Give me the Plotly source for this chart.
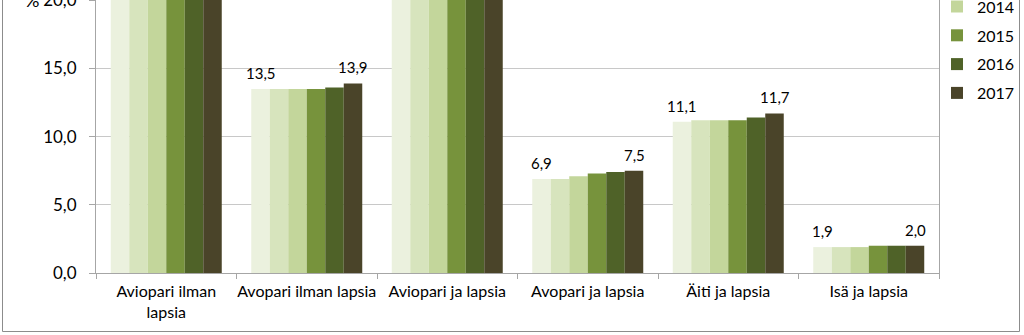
import plotly.graph_objects as go

# Family types (x-axis categories) and the yearly shares, %
categories = [
    "Aviopari ilman<br>lapsia",
    "Avopari ilman lapsia",
    "Aviopari ja lapsia",
    "Avopari ja lapsia",
    "Äiti ja lapsia",
    "Isä ja lapsia",
]
years = ["2012", "2013", "2014", "2015", "2016", "2017"]

v2012 = [36.4, 13.5, 30.2, 6.9, 11.1, 1.9]
v2013 = [36.6, 13.5, 29.7, 6.9, 11.2, 1.9]
v2014 = [36.8, 13.5, 29.2, 7.1, 11.2, 1.9]
v2015 = [37.0, 13.5, 28.8, 7.3, 11.2, 2.0]
v2016 = [37.1, 13.6, 28.3, 7.4, 11.4, 2.0]
v2017 = [37.2, 13.9, 27.7, 7.5, 11.7, 2.0]
series = [v2012, v2013, v2014, v2015, v2016, v2017]

colors = ["#EBF1DE", "#D7E4BD", "#C3D69B", "#77933C", "#4F6228", "#4A4429"]

y_ticks = [0, 5, 10, 15, 20]

W, H = 1024, 335
ML, MR, MT, MB = 96, 85, 0, 62
BARGAP = 0.21
FONT = "Lato"

plot_w = W - ML - MR
plot_h = H - MT - MB


def px_x(px):
    return (px - ML) / plot_w


def px_y(py):
    return (H - MB - py) / plot_h


fig = go.Figure()
for year, vals, col in zip(years, series, colors):
    fig.add_trace(go.Bar(
        name=year, x=categories, y=vals,
        marker=dict(color=col, line=dict(width=0)),
        legendgroup=year,
        hoverinfo="x+y+name",
    ))

# value labels for the first and last year, placed over their bars
n = len(years)
bar_w = (1 - BARGAP) / n
annotations = []
for k in (0, n - 1):
    for ci, v in enumerate(series[k]):
        annotations.append(dict(
            x=ci + (k - (n - 1) / 2) * bar_w, y=v, xref="x", yref="y",
            text=f"{v:.1f}".replace(".", ","), showarrow=False,
            yanchor="bottom", yshift=5,
            font=dict(family=FONT, size=15, color="#000000"),
        ))

annotations.append(dict(
    x=px_x(32), y=px_y(0.5), xref="paper", yref="paper", text="%",
    showarrow=False, xanchor="center", yanchor="middle",
    font=dict(family=FONT, size=18, color="#000000"),
))

fig.update_layout(
    width=W, height=H,
    margin=dict(l=ML, r=MR, t=MT, b=MB, autoexpand=False),
    paper_bgcolor="white", plot_bgcolor="white",
    barmode="group", bargap=BARGAP, bargroupgap=0,
    separators=", ",
    font=dict(family=FONT, size=15, color="#000000"),
    showlegend=True,
    legend=dict(
        x=px_x(937), y=px_y(-68), xanchor="left", yanchor="top",
        font=dict(family=FONT, size=16, color="#000000"),
        itemwidth=30, tracegroupgap=5, traceorder="grouped",
        bgcolor="rgba(0,0,0,0)", borderwidth=0,
        maxheight=600,
    ),
    annotations=annotations,
    shapes=[dict(
        type="rect", xref="paper", yref="paper",
        x0=px_x(2.5), x1=px_x(1019.5), y0=px_y(331.5), y1=px_y(-40),
        line=dict(color="#8C8C8C", width=1), fillcolor="rgba(0,0,0,0)",
        layer="below",
    )],
)

fig.update_xaxes(
    type="category",
    showline=True, linecolor="#A6A6A6", linewidth=1,
    ticks="outside", tickson="boundaries", ticklen=5,
    tickcolor="#A6A6A6", tickwidth=1,
    showgrid=False, tickangle=0,
    tickfont=dict(family=FONT, size=16, color="#000000"),
    ticklabelstandoff=4,
)
fig.update_yaxes(
    range=[0, 20.02],
    tickvals=y_ticks, tickformat=".1f",
    showline=True, linecolor="#A6A6A6", linewidth=1, mirror=True,
    ticks="outside", ticklen=6, tickcolor="#A6A6A6", tickwidth=1,
    showgrid=True, gridcolor="#C8C8C8", gridwidth=1,
    zeroline=False,
    tickfont=dict(family=FONT, size=17, color="#000000"),
    ticklabelstandoff=9, ticklabeloverflow="allow",
)

fig.write_html("out.html")
